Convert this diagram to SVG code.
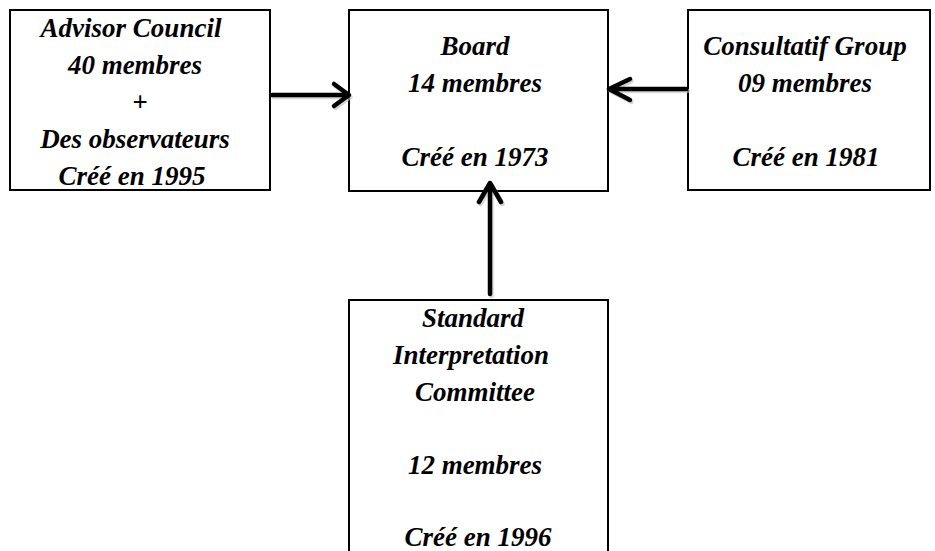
<svg xmlns="http://www.w3.org/2000/svg" width="935" height="551" viewBox="0 0 935 551">
<style>
.box{fill:#fff;stroke:#000;stroke-width:2}
.t{font-family:"Liberation Serif","Times New Roman",serif;font-size:27px;font-weight:bold;font-style:italic;fill:#000;text-anchor:middle}
.c{fill:none;stroke:#000;stroke-width:4.5;stroke-linecap:round;stroke-linejoin:round}
.sh{fill:none;stroke:#bbb;stroke-width:4.5;stroke-linecap:round;stroke-linejoin:round;opacity:0.6}
</style>
<rect width="935" height="551" fill="#fff"/>
<g id="advisor">
<rect class="box" x="10" y="10" width="260" height="180"/>
<text class="t" x="131" y="37">Advisor Council</text>
<text class="t" x="135" y="74">40 membres</text>
<text class="t" x="140" y="111">+</text>
<text class="t" x="135" y="148">Des observateurs</text>
<text class="t" x="132" y="185">Créé en 1995</text>
</g>
<g id="board">
<rect class="box" x="349" y="10" width="259" height="181"/>
<text class="t" x="475" y="55">Board</text>
<text class="t" x="475" y="92">14 membres</text>
<text class="t" x="475" y="166">Créé en 1973</text>
</g>
<g id="consultatif">
<rect class="box" x="688" y="10" width="242" height="180"/>
<text class="t" x="805" y="55">Consultatif Group</text>
<text class="t" x="805" y="92">09 membres</text>
<text class="t" x="806" y="166">Créé en 1981</text>
</g>
<g id="sic">
<rect class="box" x="349" y="300" width="259" height="270"/>
<text class="t" x="473" y="327">Standard</text>
<text class="t" x="471" y="364">Interpretation</text>
<text class="t" x="475" y="401">Committee</text>
<text class="t" x="475" y="474">12 membres</text>
<text class="t" x="478" y="546">Créé en 1996</text>
</g>
<g id="connectors">
<g transform="translate(1.5,2)">
<path class="sh" d="M272 95 H348 M334 84 L349 95 L334 106"/>
<path class="sh" d="M686 89 H610 M630 79 L609 89 L630 100"/>
<path class="sh" d="M490 294 V184 M479 202 L490 183 L501 202"/>
</g>
<path class="c" d="M272 95 H348 M334 84 L349 95 L334 106"/>
<path class="c" d="M686 89 H610 M630 79 L609 89 L630 100"/>
<path class="c" d="M490 294 V184 M479 202 L490 183 L501 202"/>
</g>
</svg>
